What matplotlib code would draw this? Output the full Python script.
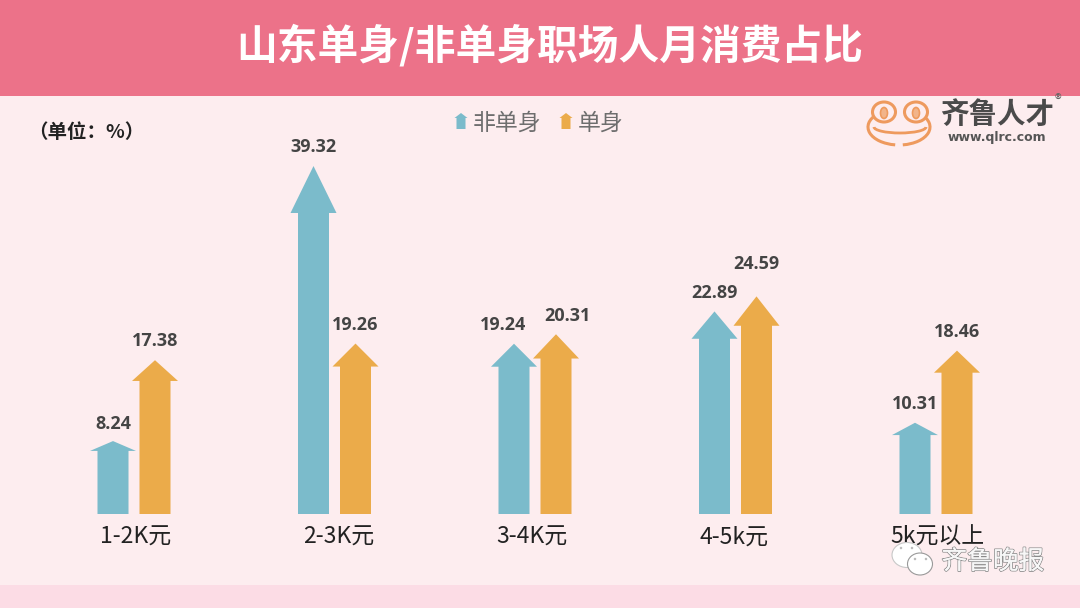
import matplotlib
matplotlib.use('Agg')
import matplotlib.pyplot as plt
import matplotlib.patheffects as pe
from matplotlib.patches import Rectangle, Polygon, Ellipse, Arc

plt.rcParams['font.family'] = ['Noto Sans CJK SC', 'DejaVu Sans']

# --- dati ---
categorie = ['1-2K元', '2-3K元', '3-4K元', '4-5k元', '5k元以上']
non_single = [8.24, 39.32, 19.24, 22.89, 10.31]
single = [17.38, 19.26, 20.31, 24.59, 18.46]
titolo = '山东单身/非单身职场人月消费占比'
nomi_serie = ['非单身', '单身']

TEAL = '#7BBBCB'
ORANGE = '#EBAB4A'
SFONDO = '#FDEDEF'
PX_X = 200.5   # pixel per categoria
PX_Y = 8.85    # pixel per punto percentuale
OFF = 21 / PX_X

fig = plt.figure(figsize=(10.8, 6.08), dpi=100, facecolor=SFONDO)

# asse in pixel per le decorazioni
deco = fig.add_axes([0, 0, 1, 1])
deco.set_xlim(0, 1080)
deco.set_ylim(608, 0)
deco.axis('off')

deco.add_patch(Rectangle((0, 0), 1080, 96, color='#EC7289', lw=0))
deco.add_patch(Rectangle((0, 585), 1080, 23, color='#FCDCE5', lw=0))
deco.text(550, 46, titolo, color='white', fontsize=29.3, fontweight='bold', ha='center', va='center')
deco.text(28, 132, '（单位：%）', color='#222222', fontsize=14, fontweight='bold', ha='left', va='center')


def freccia_px(ax, x, base, top, colore):
    ax.add_patch(Polygon([(x - 4.5, base), (x - 4.5, top + 5), (x - 6.5, top + 5), (x, top),
                          (x + 6.5, top + 5), (x + 4.5, top + 5), (x + 4.5, base)], color=colore, lw=0))


# legenda
freccia_px(deco, 461, 129, 113, TEAL)
deco.text(473, 123, nomi_serie[0], color='#6E6E6E', fontsize=16.5, ha='left', va='center')
freccia_px(deco, 566, 129, 113, ORANGE)
deco.text(578, 123, nomi_serie[1], color='#6E6E6E', fontsize=16.5, ha='left', va='center')

# logo rana
arancio = '#EE9A5E'
deco.add_patch(Arc((899, 127), 62, 36, theta1=-30, theta2=78, color=arancio, lw=2.2))
deco.add_patch(Arc((899, 127), 62, 36, theta1=102, theta2=210, color=arancio, lw=2.2))
for cx in (884, 916):
    deco.add_patch(Ellipse((cx, 112), 23, 20, fc=SFONDO, ec=arancio, lw=2.2))
    deco.add_patch(Ellipse((cx, 113), 7, 11, fc='#F2B48A', ec=arancio, lw=1.2))
deco.add_patch(Arc((900, 127), 52, 12, theta1=0, theta2=180, color=arancio, lw=2))
deco.text(997, 115, '齐鲁人才', color='#4A4A4A', fontsize=20.5, fontweight='bold', ha='center', va='center')
deco.text(997, 138, 'www.qlrc.com', color='#555555', fontsize=9, fontweight='bold', ha='center', va='center',
          family='DejaVu Sans')
deco.text(1058, 101, '®', color='#666666', fontsize=10, ha='center', va='center')

# --- grafico ---
ax = fig.add_axes([0, 0, 1, 1], facecolor='none')
ax.set_xlim(-134 / PX_X, (1080 - 134) / PX_X)
ax.set_ylim(-94 / PX_Y, 514 / PX_Y)
ax.axis('off')


def freccia(ax, x, v, colore):
    testa = v * 0.135
    sh = 15.5 / PX_X
    hw = 23 / PX_X
    ax.add_patch(Polygon([(x - sh, 0), (x - sh, v - testa), (x - hw, v - testa), (x, v),
                          (x + hw, v - testa), (x + sh, v - testa), (x + sh, 0)], color=colore, lw=0))


def etichetta(ax, x, v, dx=0, dy=7):
    ax.annotate(f'{v:.2f}', (x, v), xytext=(dx, dy), textcoords='offset points', ha='center', va='bottom',
                color='#444444', fontsize=13, fontweight='bold', family='Open Sans')


# spostamenti a mano delle etichette (in punti) e delle categorie (in pixel)
sposta_a = {0: (0, -1.5), 2: (-8, 0)}
sposta_b = {2: (8, 0), 3: (0, 10)}
sposta_cat = [1, 3, -4, -3, 0]

for i, (a, b) in enumerate(zip(non_single, single)):
    freccia(ax, i - OFF, a, TEAL)
    freccia(ax, i + OFF, b, ORANGE)
    da, db = sposta_a.get(i, (0, 0)), sposta_b.get(i, (0, 0))
    etichetta(ax, i - OFF, a, da[0], 7 + da[1])
    etichetta(ax, i + OFF, b, db[0], 7 + db[1])
    ax.text(i + (1 + sposta_cat[i]) / PX_X, -23 / PX_Y, categorie[i], color='#222222', fontsize=16.5,
            ha='center', va='center')

# filigrana wechat
deco2 = fig.add_axes([0, 0, 1, 1], facecolor='none')
deco2.set_xlim(0, 1080)
deco2.set_ylim(608, 0)
deco2.axis('off')
deco2.add_patch(Ellipse((907, 555), 30, 25, fc='white', ec='#C8C8C8', lw=0.8))
deco2.add_patch(Ellipse((920, 564), 25, 22, fc='white', ec='#999999', lw=0.8))
for cx, cy in [(901, 548), (912, 548), (915, 559), (926, 559)]:
    deco2.add_patch(Ellipse((cx, cy), 2.5, 2.5, fc='#BBBBBB', lw=0))
t = deco2.text(993, 562, '齐鲁晚报', color='#F7F7F7', fontsize=18.5, ha='center', va='center')
t.set_path_effects([pe.withStroke(linewidth=1.2, foreground='#8A8A8A'), pe.Normal()])

plt.savefig('out.png', dpi=100, facecolor=fig.get_facecolor())
